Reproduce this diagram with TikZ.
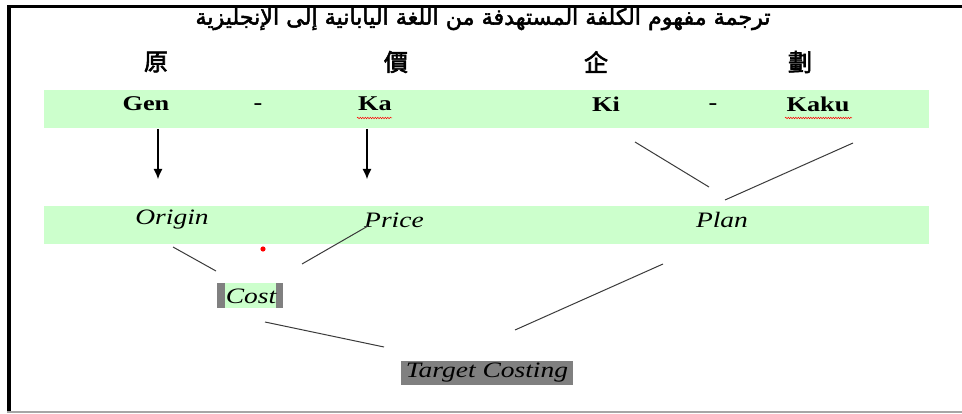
\documentclass[tikz,border=0pt]{standalone}
\usepackage{fontspec}
\usetikzlibrary{arrows.meta,decorations.pathmorphing}
\TeXXeTstate=1
\setmainfont{Liberation Serif}
\newfontfamily\wideserif[FakeStretch=1.25]{Liberation Serif}
\newfontfamily\arabicfont[Script=Arabic,FakeBold=2.2]{DejaVu Sans}
\newfontfamily\cjkfont[FakeBold=2.5]{Noto Sans CJK TC}
\definecolor{barGreen}{HTML}{CCFFCC}
\definecolor{barGray}{HTML}{808080}
\definecolor{lineGray}{HTML}{3A3A3A}
\tikzset{
  kanji/.style={font=\cjkfont\fontsize{24pt}{24pt}\selectfont, inner sep=0pt},
  romaji/.style={font=\wideserif\bfseries\fontsize{21pt}{21pt}\selectfont, inner sep=0pt},
  meaning/.style={font=\wideserif\itshape\fontsize{22pt}{22pt}\selectfont, inner sep=0pt},
  link/.style={draw=lineGray, line width=1pt},
  downarrow/.style={draw=black, line width=1.1pt, -{Latex[length=10pt,width=9pt]}},
  spell/.style={draw=red, line width=0.5pt, decorate, decoration={snake, amplitude=0.7pt, segment length=2.5pt}}
}
\begin{document}
\begin{tikzpicture}[x=1pt,y=-1pt]
\useasboundingbox (0,0) rectangle (962,414);
% frame
\fill[black] (7,5) rectangle (962,8);
\fill[black] (7,5) rectangle (11,411);
\fill[barGray!70] (7,411) rectangle (962,413);
% title
\node[inner sep=0pt] (title) at (483,19) {\resizebox{575pt}{!}{\arabicfont\beginR ترجمة مفهوم الكلفة المستهدفة  من اللغة اليابانية إلى الإنجليزية\endR}};
% kanji
\node[kanji] (k1) at (156,62) {原};
\node[kanji] (k2) at (396,62) {價};
\node[kanji] (k3) at (596,62) {企};
\node[kanji] (k4) at (800,62) {劃};
% bars
\fill[barGreen] (44,90) rectangle (929,128);
\fill[barGreen] (44,206) rectangle (929,244);
% romaji
\node[romaji] (gen) at (146,104) {Gen};
\node[romaji] (d1) at (258,107) {-};
\node[romaji] (ka) at (375,104) {Ka};
\node[romaji] (ki) at (606,104) {Ki};
\node[romaji] (d2) at (713,107) {-};
\node[romaji] (kaku) at (818,104) {Kaku};
\draw[spell] (357,118) -- (392,118);
\draw[spell] (785,118) -- (852,118);
% meanings
\node[meaning] (origin) at (172,220) {Origin};
\node[meaning] (price) at (394,220) {Price};
\node[meaning] (plan) at (722,220) {Plan};
% cost
\fill[barGray] (217,283) rectangle (225,308);
\fill[barGreen] (225,283) rectangle (276,308);
\fill[barGray] (276,283) rectangle (283,308);
\node[meaning] (cost) at (251,296) {Cost};
% target costing
\node[meaning, fill=barGray, minimum width=172pt, minimum height=24pt] (target) at (487,373) {Target Costing};
% red dot
\fill[red] (263,249) circle (2.6pt);
% coordinates
\coordinate (a1s) at (158,129);
\coordinate (a1e) at (158,179);
\coordinate (a2s) at (367,129);
\coordinate (a2e) at (367,179);
\coordinate (kiA) at (635,142);
\coordinate (kiB) at (709,187);
\coordinate (kaA) at (853,143);
\coordinate (kaB) at (725,200);
\coordinate (orA) at (173,247);
\coordinate (orB) at (216,271);
\coordinate (prA) at (368,226);
\coordinate (prB) at (302,264);
\coordinate (coA) at (265,322);
\coordinate (coB) at (384,347);
\coordinate (plA) at (663,264);
\coordinate (plB) at (515,330);
\draw[downarrow] (a1s) -- (a1e);
\draw[downarrow] (a2s) -- (a2e);
\draw[link] (kiA) -- (kiB);
\draw[link] (kaA) -- (kaB);
\draw[link] (orA) -- (orB);
\draw[link] (prA) -- (prB);
\draw[link] (coA) -- (coB);
\draw[link] (plA) -- (plB);
\end{tikzpicture}
\end{document}
